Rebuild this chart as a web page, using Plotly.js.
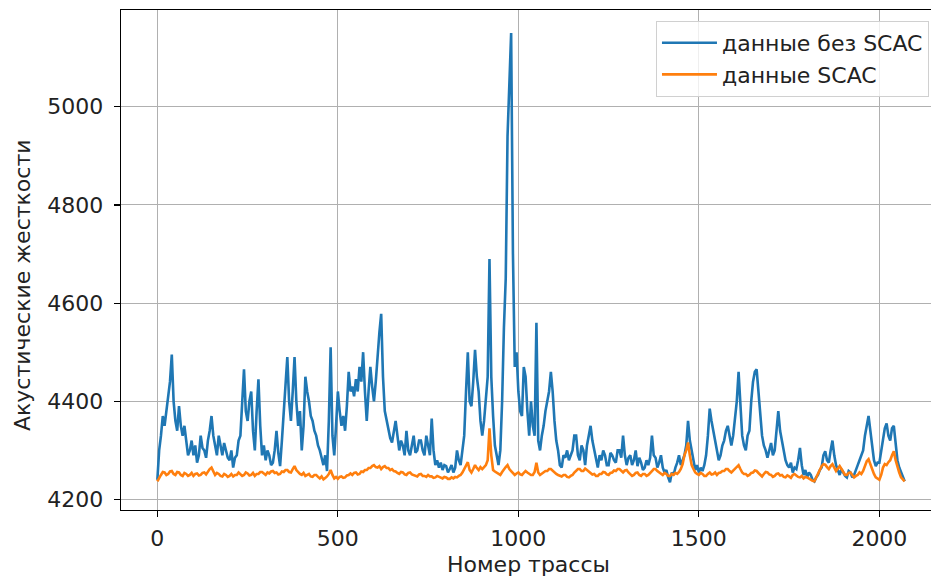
<!DOCTYPE html>
<html>
<head>
<meta charset="utf-8">
<script src="https://cdn.plot.ly/plotly-3.0.1.min.js"></script>
<style>html,body{margin:0;padding:0;background:#fff;}#chart{width:931px;height:577px;}</style>
</head>
<body>
<div id="chart"></div>
<script>
// Trace numbers are sampled every 5 traces, starting at 0
const traceStart = 0;
const traceStep = 5;

const seriesNames = ["данные без SCAC", "данные SCAC"];

const valuesWithoutScac = [
  4240, 4300, 4330, 4370, 4350, 4380, 4400, 4440, 4495, 4400, 4360, 4340, 4390, 4350, 4330, 4350, 4320, 4290, 4300, 4320,
  4290, 4310, 4275, 4290, 4330, 4305, 4300, 4285, 4320, 4340, 4370, 4330, 4310, 4290, 4330, 4310, 4290, 4315, 4300, 4285,
  4280, 4300, 4265, 4285, 4290, 4320, 4330, 4400, 4465, 4380, 4360, 4400, 4420, 4340, 4300, 4380, 4445, 4350, 4290, 4310,
  4280, 4300, 4290, 4270, 4275, 4300, 4340, 4295, 4268, 4320, 4380, 4420, 4490, 4400, 4360, 4420, 4490, 4400, 4350, 4380,
  4300, 4350, 4450, 4420, 4400, 4370, 4360, 4340, 4330, 4310, 4300, 4285, 4270, 4290, 4258, 4360, 4510, 4330, 4290, 4350,
  4420, 4380, 4350, 4370, 4340, 4390, 4460, 4420, 4430, 4410, 4445, 4420, 4470, 4440, 4500, 4420, 4360, 4420, 4470, 4430,
  4400, 4440, 4500, 4540, 4578, 4450, 4380, 4360, 4340, 4325, 4316, 4340, 4360, 4330, 4300, 4320, 4310, 4290, 4340, 4300,
  4290, 4310, 4330, 4295, 4300, 4320, 4320, 4300, 4290, 4330, 4310, 4290, 4365, 4300, 4270, 4280, 4265, 4275, 4260, 4270,
  4268, 4255, 4262, 4270, 4255, 4265, 4300, 4280, 4270, 4300, 4330, 4420, 4500, 4400, 4390, 4440, 4505, 4450, 4420, 4360,
  4330, 4360, 4400, 4450, 4690, 4450, 4370, 4310, 4290, 4270, 4300, 4400, 4550, 4650, 4940, 5050, 5150, 4700, 4470, 4500,
  4420, 4380, 4370, 4470, 4450, 4380, 4330, 4400, 4350, 4330, 4560, 4320, 4300, 4330, 4350, 4380, 4400, 4420, 4460, 4420,
  4360, 4320, 4300, 4270, 4265, 4290, 4285, 4300, 4280, 4290, 4300, 4330, 4330, 4290, 4280, 4310, 4300, 4270, 4310, 4330,
  4350, 4320, 4300, 4280, 4265, 4290, 4280, 4300, 4290, 4270, 4270, 4295, 4290, 4280, 4275, 4300, 4300, 4285, 4330, 4290,
  4270, 4285, 4290, 4270, 4280, 4300, 4268, 4285, 4275, 4260, 4265, 4280, 4270, 4285, 4330, 4290, 4285, 4265, 4275, 4290,
  4265, 4255, 4260, 4245, 4235, 4255, 4250, 4265, 4275, 4290, 4270, 4280, 4290, 4310, 4360, 4320, 4300, 4285, 4260, 4270,
  4255, 4265, 4258, 4270, 4290, 4330, 4385, 4360, 4340, 4320, 4300, 4280, 4290, 4310, 4320, 4340, 4350, 4330, 4310, 4330,
  4360, 4400, 4460, 4380, 4330, 4310, 4300, 4330, 4340, 4400, 4440, 4460, 4465, 4420, 4370, 4330, 4310, 4300, 4285, 4300,
  4315, 4290, 4300, 4340, 4380, 4340, 4320, 4295, 4280, 4270, 4265, 4275, 4255, 4265, 4262, 4280, 4305, 4270, 4250, 4260,
  4245, 4255, 4250, 4240, 4237, 4245, 4250, 4260, 4265, 4290, 4298, 4280, 4275, 4300, 4320, 4290, 4270, 4260, 4250, 4262,
  4255, 4248, 4245, 4258, 4255, 4245, 4250, 4262, 4270, 4280, 4290, 4300, 4330, 4350, 4370, 4340, 4310, 4280, 4268, 4275,
  4275, 4300, 4330, 4345, 4355, 4330, 4320, 4345, 4350, 4320, 4280, 4265, 4255, 4245, 4237
];

const valuesScac = [
  4237, 4245, 4250, 4256, 4255, 4250, 4252, 4257, 4258, 4252, 4250, 4256, 4255, 4250, 4248, 4254, 4252, 4248, 4250, 4254,
  4248, 4252, 4253, 4249, 4250, 4254, 4255, 4251, 4258, 4262, 4265, 4256, 4250, 4254, 4252, 4248, 4247, 4252, 4250, 4246,
  4248, 4252, 4247, 4250, 4250, 4255, 4252, 4248, 4250, 4255, 4253, 4249, 4250, 4254, 4248, 4252, 4252, 4256, 4256, 4252,
  4250, 4255, 4253, 4257, 4258, 4254, 4255, 4251, 4252, 4257, 4256, 4260, 4260, 4256, 4255, 4262, 4268, 4260, 4255, 4252,
  4250, 4254, 4248, 4250, 4252, 4247, 4246, 4250, 4250, 4246, 4243, 4247, 4241, 4244, 4247, 4252, 4260, 4250, 4243, 4246,
  4242, 4246, 4247, 4244, 4245, 4249, 4250, 4253, 4250, 4254, 4255, 4251, 4252, 4257, 4256, 4260, 4260, 4264, 4264, 4268,
  4270, 4266, 4265, 4268, 4262, 4266, 4268, 4264, 4264, 4260, 4262, 4258, 4257, 4254, 4252, 4256, 4255, 4251, 4250, 4254,
  4255, 4251, 4250, 4248, 4247, 4251, 4252, 4248, 4248, 4246, 4250, 4247, 4247, 4244, 4245, 4248, 4246, 4244, 4243, 4246,
  4245, 4242, 4242, 4245, 4243, 4246, 4245, 4248, 4250, 4255, 4262, 4270, 4276, 4260, 4255, 4262, 4270, 4264, 4260, 4266,
  4262, 4266, 4270, 4280, 4345, 4290, 4260, 4257, 4255, 4252, 4250, 4256, 4262, 4266, 4270, 4262, 4258, 4254, 4250, 4253,
  4255, 4251, 4250, 4254, 4258, 4255, 4253, 4250, 4250, 4256, 4275, 4255, 4250, 4253, 4255, 4258, 4258, 4262, 4262, 4258,
  4255, 4252, 4250, 4248, 4247, 4250, 4250, 4246, 4245, 4248, 4250, 4255, 4258, 4262, 4262, 4258, 4258, 4263, 4260, 4257,
  4255, 4251, 4252, 4248, 4248, 4252, 4252, 4256, 4255, 4251, 4250, 4254, 4255, 4259, 4258, 4262, 4262, 4258, 4255, 4259,
  4260, 4255, 4252, 4248, 4250, 4254, 4255, 4250, 4248, 4252, 4252, 4248, 4250, 4255, 4258, 4262, 4262, 4258, 4255, 4252,
  4250, 4254, 4252, 4248, 4248, 4252, 4250, 4254, 4252, 4256, 4262, 4272, 4290, 4300, 4316, 4290, 4270, 4262, 4255, 4252,
  4250, 4254, 4252, 4248, 4248, 4252, 4255, 4251, 4252, 4255, 4250, 4254, 4255, 4258, 4258, 4262, 4262, 4258, 4255, 4259,
  4262, 4266, 4270, 4262, 4255, 4252, 4252, 4248, 4250, 4254, 4255, 4259, 4258, 4254, 4250, 4247, 4252, 4256, 4255, 4251,
  4250, 4246, 4248, 4252, 4253, 4249, 4250, 4246, 4245, 4249, 4247, 4244, 4250, 4252, 4249, 4246, 4245, 4248, 4243, 4246,
  4245, 4242, 4240, 4238, 4237, 4245, 4255, 4262, 4268, 4272, 4271, 4266, 4262, 4268, 4272, 4265, 4258, 4263, 4268, 4262,
  4255, 4250, 4250, 4254, 4255, 4250, 4245, 4248, 4250, 4255, 4252, 4258, 4270, 4278, 4282, 4272, 4260, 4252, 4245, 4242,
  4240, 4250, 4265, 4272, 4270, 4276, 4280, 4290, 4298, 4280, 4265, 4255, 4245, 4240, 4237
];

const xTickValues = [0, 500, 1000, 1500, 2000];
const yTickValues = [4200, 4400, 4600, 4800, 5000];

const xLabel = "Номер трассы";
const yLabel = "Акустические жесткости";

const traceNumbers = valuesWithoutScac.map((_, i) => traceStart + i * traceStep);

const FONT = "DejaVu Sans, sans-serif";
const TEXT = "#222222";
const FS = 22;

const traces = [
  {
    x: traceNumbers, y: valuesWithoutScac, name: seriesNames[0],
    type: "scatter", mode: "lines",
    line: {color: "#1f77b4", width: 2.6}
  },
  {
    x: traceNumbers, y: valuesScac, name: seriesNames[1],
    type: "scatter", mode: "lines",
    line: {color: "#ff7f0e", width: 2.6}
  }
];

const layout = {
  width: 931, height: 577,
  margin: {l: 121, r: 0, t: 10, b: 67, pad: 0},
  paper_bgcolor: "#ffffff", plot_bgcolor: "#ffffff",
  font: {family: FONT, size: FS, color: TEXT},
  showlegend: true,
  legend: {
    x: 0.9975, y: 0.978, xanchor: "right", yanchor: "top",
    bgcolor: "rgba(255,255,255,0.8)", bordercolor: "#d0d0d0", borderwidth: 1,
    font: {family: FONT, size: FS, color: TEXT},
    itemwidth: 55,
    tracegroupgap: 0
  },
  xaxis: {
    range: [-100.7, 2143], tickvals: xTickValues, ticktext: xTickValues.map(String),
    showgrid: true, gridcolor: "#b0b0b0", gridwidth: 1,
    zeroline: false, showline: true, linecolor: "#000000", linewidth: 1.3, mirror: true,
    ticks: "outside", ticklen: 6, tickwidth: 1.2, tickcolor: "#000000",
    ticklabelstandoff: 2,
    tickfont: {family: FONT, size: FS, color: TEXT}
  },
  yaxis: {
    range: [4178.6, 5197], tickvals: yTickValues, ticktext: yTickValues.map(String),
    showgrid: true, gridcolor: "#b0b0b0", gridwidth: 1,
    zeroline: false, showline: true, linecolor: "#000000", linewidth: 1.3,
    ticks: "outside", ticklen: 6, tickwidth: 1.2, tickcolor: "#000000",
    ticklabelstandoff: 6,
    tickfont: {family: FONT, size: FS, color: TEXT}
  },
  annotations: [
    {
      text: xLabel, xref: "paper", yref: "paper",
      x: 0.5037, y: -0.08, xanchor: "center", yanchor: "top",
      showarrow: false, font: {family: FONT, size: FS, color: TEXT}
    },
    {
      text: yLabel, xref: "paper", yref: "paper",
      x: -0.1222, y: 0.45, xanchor: "center", yanchor: "middle", textangle: -90,
      showarrow: false, font: {family: FONT, size: FS, color: TEXT}
    }
  ]
};

Plotly.newPlot("chart", traces, layout, {displayModeBar: false, staticPlot: true});
</script>
</body>
</html>
